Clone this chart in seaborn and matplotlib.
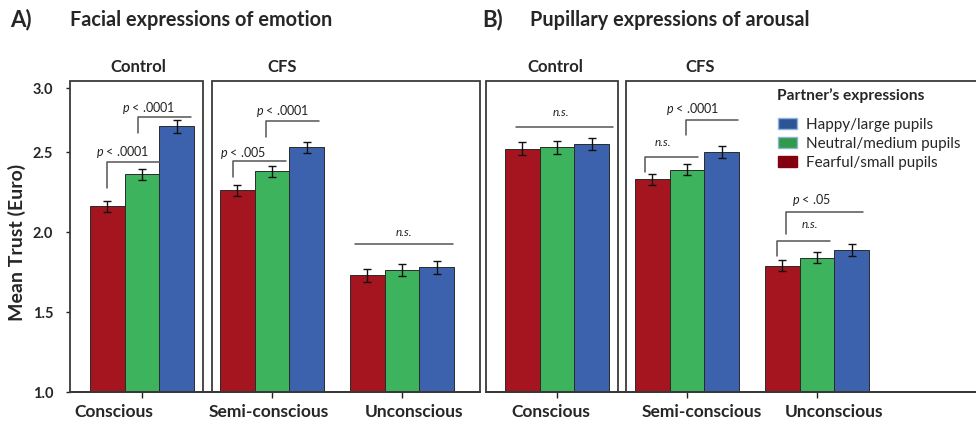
import pandas as pd
import matplotlib
matplotlib.use("Agg")
import matplotlib.pyplot as plt
import seaborn as sns
from matplotlib.patches import Rectangle, Patch

# ---- data ----
conditions = ["Conscious", "Semi-conscious", "Unconscious"]
expressions = ["Fearful/small pupils", "Neutral/medium pupils", "Happy/large pupils"]

faces_fearful = [2.16, 2.26, 1.73]
faces_neutral = [2.36, 2.38, 1.76]
faces_happy = [2.66, 2.53, 1.78]
faces_err_fearful = [0.034, 0.033, 0.040]
faces_err_neutral = [0.037, 0.033, 0.037]
faces_err_happy = [0.038, 0.035, 0.040]

pupils_fearful = [2.52, 2.33, 1.79]
pupils_neutral = [2.53, 2.39, 1.84]
pupils_happy = [2.55, 2.50, 1.89]
pupils_err_fearful = [0.040, 0.035, 0.035]
pupils_err_neutral = [0.040, 0.033, 0.036]
pupils_err_happy = [0.038, 0.035, 0.038]

ytick_vals = [1.0, 1.5, 2.0, 2.5, 2.9]
ytick_labels = ["1.0", "1.5", "2.0", "2.5", "3.0"]

# significance brackets: x of leg, x end, y of line, y of leg bottom, label, label x, label y
faces_brackets = [
    (-0.27, 0.14, 2.44, 2.275, "p < .0001", -0.15, 2.50),
    (-0.03, 0.38, 2.72, 2.62, "p < .0001", 0.05, 2.775),
    (0.70, 1.11, 2.444, 2.344, "p < .005", 0.78, 2.494),
    (0.95, 1.36, 2.694, 2.594, "p < .0001", 1.08, 2.756),
    (1.64, 2.39, 1.925, None, "n.s.", 2.015, 1.994),
]
pupils_brackets = [
    (-0.315, 0.43, 2.656, None, "n.s.", 0.03, 2.75),
    (0.677, 1.085, 2.469, 2.375, "n.s.", 0.815, 2.5625),
    (0.99, 1.39, 2.70, 2.606, "p < .0001", 1.04, 2.769),
    (1.69, 2.10, 1.944, 1.85, "n.s.", 1.946, 2.05),
    (1.76, 2.35, 2.125, 1.988, "p < .05", 1.954, 2.20),
]

palette = {"Fearful/small pupils": "#A4151F",
           "Neutral/medium pupils": "#3DB35D",
           "Happy/large pupils": "#3C62AD"}

sns.set_style("white")
plt.rcParams["font.family"] = ["Lato", "DejaVu Sans"]
plt.rcParams["mathtext.fontset"] = "custom"
plt.rcParams["mathtext.it"] = "Lato:italic"
plt.rcParams["mathtext.rm"] = "Lato"

LINE = "#3a3a3a"
YTOP = 2.944


def make_df(fear, neut, happy, e_f, e_n, e_h):
    rows = []
    for i, c in enumerate(conditions):
        rows.append((c, expressions[0], fear[i], e_f[i]))
        rows.append((c, expressions[1], neut[i], e_n[i]))
        rows.append((c, expressions[2], happy[i], e_h[i]))
    return pd.DataFrame(rows, columns=["condition", "expression", "trust", "err"])


def draw_panel(ax, df, brackets, xlim, boxes, show_y):
    sns.barplot(data=df, x="condition", y="trust", hue="expression",
                order=conditions, hue_order=expressions, palette=palette,
                saturation=1, errorbar=None, edgecolor="#2a2a2a", linewidth=0.7,
                width=0.8, legend=False, ax=ax)
    bars = sorted(ax.patches, key=lambda p: p.get_x())
    for p, e in zip(bars, df["err"]):
        ax.errorbar(p.get_x() + p.get_width() / 2, p.get_height(), yerr=e,
                    fmt="none", ecolor="#111111", elinewidth=1.0,
                    capsize=3.2, capthick=1.0, zorder=5)
    ax.set_xlim(*xlim)
    ax.set_ylim(1.0, YTOP)
    for x0, x1 in boxes:
        ax.add_patch(Rectangle((x0, 1.0), x1 - x0, YTOP - 1.0, fill=False,
                               ec=LINE, lw=1.3, clip_on=False, zorder=6))
    for xa, xb, yl, yb, lab, tx, ty in brackets:
        if yb is None:
            ax.plot([xa, xb], [yl, yl], color="#555555", lw=1.1)
        else:
            ax.plot([xa, xa, xb], [yb, yl, yl], color="#555555", lw=1.1)
        if lab == "n.s.":
            ax.text(tx, ty, lab, ha="center", va="center", fontsize=8.5,
                    fontstyle="italic", color="#222222")
        else:
            ax.text(tx, ty, "$p$" + lab[1:], ha="center", va="center",
                    fontsize=9, color="#222222")
    for s in ["top", "right", "left"]:
        ax.spines[s].set_visible(False)
    ax.spines["bottom"].set_color("#222222")
    ax.spines["bottom"].set_linewidth(1.3)
    ax.set_xticks(range(len(conditions)))
    ax.set_xticklabels([])
    ax.tick_params(axis="x", length=4, width=1, color="#222222", bottom=True)
    ax.set_xlabel("")
    ax.set_ylabel("")
    if show_y:
        ax.set_yticks(ytick_vals)
        ax.set_yticklabels(ytick_labels, fontsize=10.5, fontweight="bold")
        ax.tick_params(axis="y", length=3, width=1, color="#222222", left=True, pad=9)
    else:
        ax.set_yticks([])


fig = plt.figure(figsize=(9.76, 4.23), dpi=100)
H = 423.0
W = 976.0
bottom = (H - 392) / H
height = (392 - 81) / H
ax_a = fig.add_axes([70 / W, bottom, (480 - 70) / W, height])
ax_b = fig.add_axes([486 / W, bottom, (976 - 486) / W, height])

df_faces = make_df(faces_fearful, faces_neutral, faces_happy,
                   faces_err_fearful, faces_err_neutral, faces_err_happy)
df_pupils = make_df(pupils_fearful, pupils_neutral, pupils_happy,
                    pupils_err_fearful, pupils_err_neutral, pupils_err_happy)

draw_panel(ax_a, df_faces, faces_brackets, (-0.554, 2.6),
           [(-0.554, 0.47), (0.538, 2.6)], True)
draw_panel(ax_b, df_pupils, pupils_brackets, (-0.546, 3.223),
           [(-0.546, 0.47), (0.532, 3.4)], False)

# category labels under the axes (slightly offset from ticks, as in the original)
for ax, xs in [(ax_a, [-0.215, 0.977, 2.09]), (ax_b, [-0.046, 1.115, 2.13])]:
    for x, lab in zip(xs, conditions):
        ax.text(x, -0.065, lab, transform=ax.get_xaxis_transform(),
                ha="center", va="center", fontsize=12.5, fontweight="bold")

# panel headings
fig.text(10 / W, 1 - 20 / H, "A)", fontsize=16, fontweight="bold", va="center")
fig.text(70 / W, 1 - 20 / H, "Facial expressions of emotion", fontsize=14.3,
         fontweight="bold", va="center")
fig.text(482 / W, 1 - 20 / H, "B)", fontsize=16, fontweight="bold", va="center")
fig.text(530 / W, 1 - 20 / H, "Pupillary expressions of arousal", fontsize=14.3,
         fontweight="bold", va="center")
for x, lab in [(138, "Control"), (282, "CFS"), (555, "Control"), (700, "CFS")]:
    fig.text(x / W, 1 - 67 / H, lab, fontsize=12, fontweight="bold",
             ha="center", va="center")
fig.text(17 / W, 1 - 242 / H, "Mean Trust (Euro)", rotation=90, fontsize=14,
         fontweight="bold", ha="center", va="center")

# legend (happy first, as in the original)
fig.text(777 / W, 1 - 96 / H, "Partner\u2019s expressions", fontsize=11.2,
         fontweight="bold", ha="left", va="center")
handles = [Patch(facecolor="#2D5596", edgecolor="#8FB3DA", lw=1.0),
           Patch(facecolor="#2F9A48", edgecolor="#8FB3DA", lw=1.0),
           Patch(facecolor="#82000F", edgecolor="#82000F", lw=1.0)]
leg = fig.legend(handles, expressions[::-1],
                 loc="upper left", bbox_to_anchor=(770 / W, 1 - 110 / H),
                 frameon=False, fontsize=11, handlelength=1.25, handleheight=0.8,
                 handletextpad=0.6, labelspacing=0.32, borderpad=0.0)

fig.savefig("out.png", dpi=100)
